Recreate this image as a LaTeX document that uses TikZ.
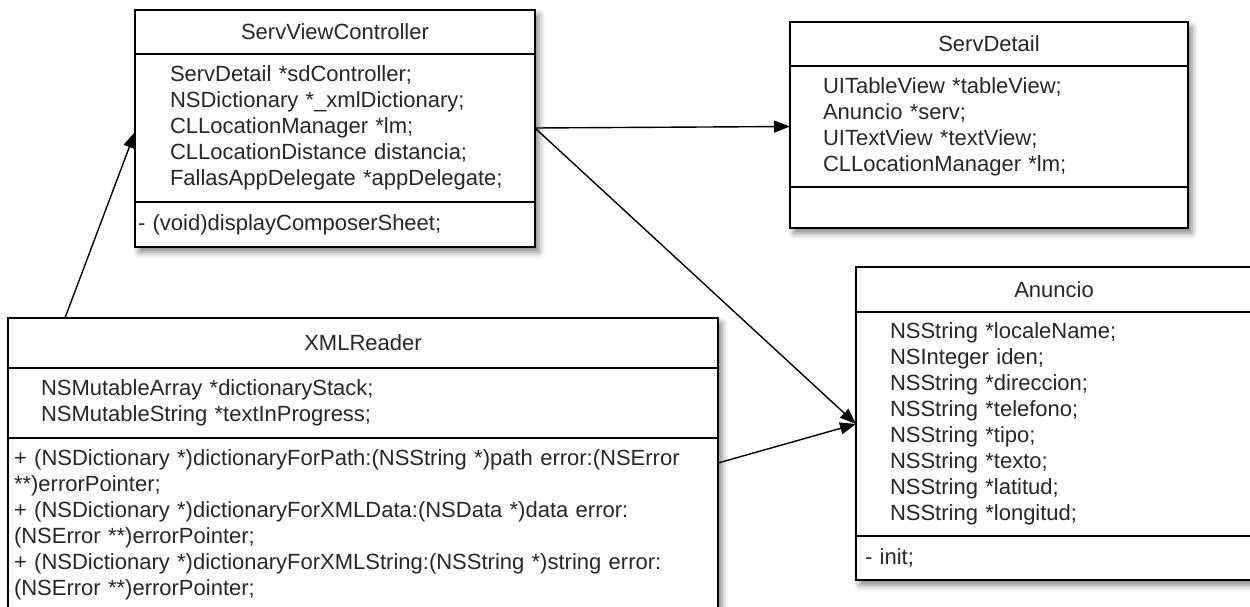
\documentclass[tikz,border=0pt]{standalone}
\usepackage{fontspec}
\setmainfont{Liberation Sans}
\usepackage{tikz}
\usetikzlibrary{positioning,fit,calc}
\usetikzlibrary{backgrounds}
\usetikzlibrary{arrows.meta}
\usetikzlibrary{shadows.blur}
\definecolor{ink}{rgb}{0.15,0.15,0.15}

\begin{document}
\begin{tikzpicture}[
  x = 1pt,
  y = -1pt,
  head/.style = {
    draw,
    rectangle,
    fill = white,
    line width = 1.4pt,
    inner sep = 0pt,
    outer sep = 0pt,
    text = ink,
    font = \fontsize{22pt}{26pt}\selectfont,
  },
  part/.style = {
    draw,
    rectangle,
    fill = white,
    line width = 1.4pt,
    inner xsep = 0pt,
    inner ysep = 0pt,
    outer sep = 0pt,
    align = left,
    text = ink,
    font = \fontsize{22pt}{26pt}\selectfont,
  },
  lskip/.style = {
    execute at begin node = {\leftskip=#1},
  },
  shade/.style = {
    inner sep = 0pt,
    blur shadow = {shadow xshift=4pt, shadow yshift=-5pt,
      shadow blur radius=6pt, shadow opacity=50},
  },
  link/.style = {
    draw,
    ->,
    line width = 1.4pt,
  },
  >={Triangle[length=16pt,width=12pt]},
]

  \useasboundingbox (0,0) rectangle (1250,607);

  % ServViewController
  \node[head,minimum width=400pt,minimum height=44pt,anchor=north west] (svc0) at (135,10) {ServViewController};
  \node[part,text width=400pt,minimum height=148pt,lskip=35pt] (svc1) [below=0pt of svc0]
    {ServDetail *sdController;\\NSDictionary *\_xmlDictionary;\\CLLocationManager *lm;\\CLLocationDistance distancia;\\FallasAppDelegate *appDelegate;};
  \node[part,text width=400pt,minimum height=45pt,lskip=3pt] (svc2) [below=0pt of svc1] {- (void)displayComposerSheet;};
  \begin{scope}[on background layer]
    \node[shade,fit=(svc0) (svc2)] (svc) {};
  \end{scope}

  % ServDetail
  \node[head,minimum width=398pt,minimum height=44pt,anchor=north west] (sd0) at (790,22) {ServDetail};
  \node[part,text width=398pt,minimum height=121pt,lskip=33pt] (sd1) [below=0pt of sd0]
    {UITableView *tableView;\\Anuncio *serv;\\UITextView *textView;\\CLLocationManager *lm;};
  \node[part,text width=398pt,minimum height=41pt] (sd2) [below=0pt of sd1] {};
  \begin{scope}[on background layer]
    \node[shade,fit=(sd0) (sd2)] (sd) {};
  \end{scope}

  % XMLReader
  \node[head,minimum width=710pt,minimum height=50pt,anchor=north west] (xr0) at (8,318) {XMLReader};
  \node[part,text width=710pt,minimum height=70pt,lskip=33pt] (xr1) [below=0pt of xr0]
    {NSMutableArray *dictionaryStack;\\NSMutableString *textInProgress;};
  \node[part,text width=710pt,minimum height=174pt,lskip=6pt] (xr2) [below=0pt of xr1]
    {+ (NSDictionary *)dictionaryForPath:(NSString *)path error:(NSError\\{}**)errorPointer;\\
     + (NSDictionary *)dictionaryForXMLData:(NSData *)data error:\\(NSError **)errorPointer;\\
     + (NSDictionary *)dictionaryForXMLString:(NSString *)string error:\\(NSError **)errorPointer;};
  \begin{scope}[on background layer]
    \node[shade,fit=(xr0) (xr2)] (xr) {};
  \end{scope}

  % Anuncio
  \node[head,minimum width=396pt,minimum height=45pt,anchor=north west] (an0) at (856,267) {Anuncio};
  \node[part,text width=396pt,minimum height=224pt,lskip=34pt] (an1) [below=0pt of an0]
    {NSString *localeName;\\NSInteger iden;\\NSString *direccion;\\NSString *telefono;\\NSString *tipo;\\NSString *texto;\\NSString *latitud;\\NSString *longitud;};
  \node[part,text width=396pt,minimum height=44pt,lskip=9pt] (an2) [below=0pt of an1] {- init;};
  \begin{scope}[on background layer]
    \node[shade,fit=(an0) (an2)] (an) {};
  \end{scope}

  \draw[link] ([xshift=57pt]xr0.north west) -- ([yshift=-4pt]svc1.west);
  \draw[link] (svc1.east) -- (sd1.west);
  \draw[link] (svc1.east) -- (an1.west);
  \draw[link] ([yshift=-25pt]xr2.north east) -- (an1.west);

\end{tikzpicture}
\end{document}
